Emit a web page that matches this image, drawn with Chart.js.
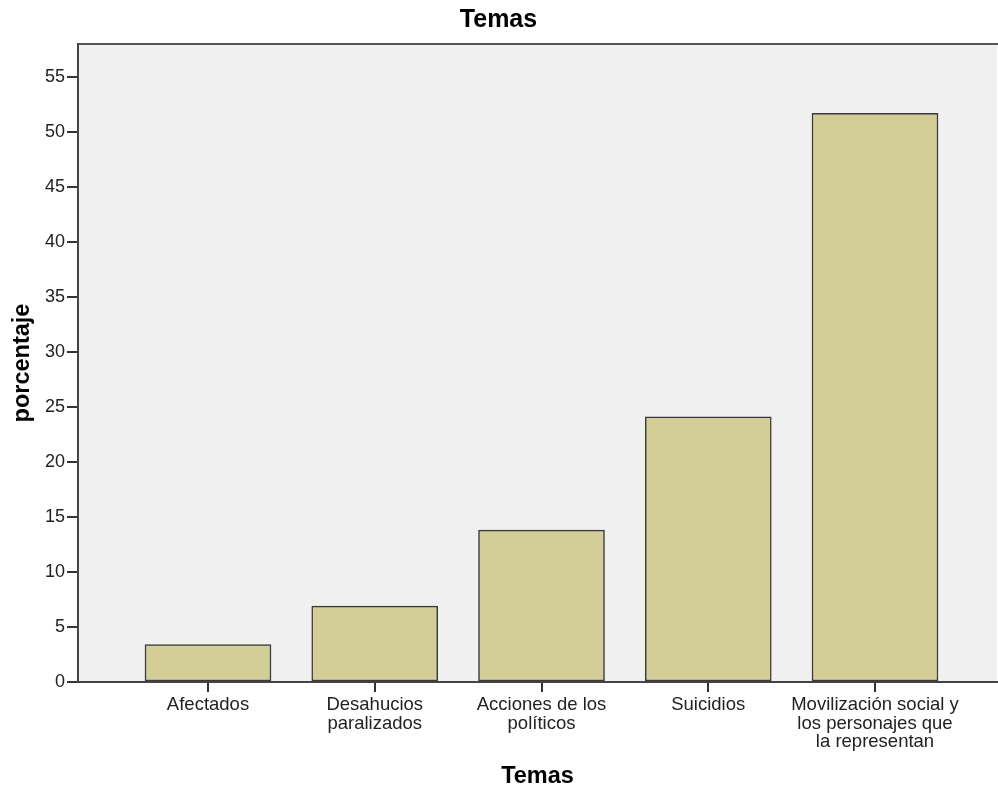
<!DOCTYPE html>
<html>
<head>
<meta charset="utf-8">
<script src="https://cdn.jsdelivr.net/npm/chart.js@4"></script>
<style>
  body { margin: 0; background: #fff; }
  #wrap { width: 998px; height: 789px; }
</style>
</head>
<body>
<div id="wrap"><canvas id="barChart" width="998" height="789"></canvas></div>
<script>
// data
var categories = ['Afectados', 'Desahucios\nparalizados', 'Acciones de los\npolíticos', 'Suicidios', 'Movilización social y\nlos personajes que\nla representan'];
var percentages = [3.4, 6.9, 13.8, 24.1, 51.7];
var yTicks = [0, 5, 10, 15, 20, 25, 30, 35, 40, 45, 50, 55];

var font = "'Liberation Sans', Arial, sans-serif";

// grey plot background + top frame line
var plotBackground = {
    id: 'plotBackground',
    beforeDraw: function (chart) {
        var a = chart.chartArea, c = chart.ctx;
        c.save();
        c.fillStyle = '#f0f0f0';
        c.fillRect(a.left, a.top, a.right - a.left, a.bottom - a.top);
        c.strokeStyle = '#555';
        c.lineWidth = 2;
        c.beginPath();
        c.moveTo(a.left, a.top);
        c.lineTo(a.right + 2, a.top);
        c.stroke();
        c.restore();
    }
};

var ctx = document.getElementById('barChart').getContext('2d');
var barChart = new Chart(ctx, {
    type: 'bar',
    data: {
        datasets: [{
            label: 'porcentaje',
            data: percentages.map(function (v, i) { return { x: i + 1, y: v }; }),
            backgroundColor: '#d3ce98',
            borderColor: '#3a3a3a',
            borderWidth: 1.5,
            borderSkipped: false,
            barThickness: 126
        }]
    },
    options: {
        responsive: false,
        animation: false,
        layout: { padding: { left: 0, right: 1, top: 0, bottom: 0 } },
        plugins: {
            legend: { display: false },
            tooltip: { enabled: false },
            title: {
                display: true,
                text: 'Temas',
                color: '#000',
                font: { family: font, size: 25, weight: 'bold', lineHeight: 1.2 },
                padding: { top: 5, bottom: 9 }
            }
        },
        scales: {
            x: {
                type: 'linear',
                offset: false,
                min: 0.2204,
                max: 5.7316,
                afterBuildTicks: function (scale) {
                    scale.ticks = categories.map(function (c, i) { return { value: i + 1 }; });
                },
                afterFit: function (scale) { scale.height = 107; },
                ticks: {
                    autoSkip: false,
                    maxRotation: 0,
                    color: '#222',
                    padding: 4,
                    font: { family: font, size: 18.5, lineHeight: 1 },
                    callback: function (value) {
                        var c = categories[Math.round(value) - 1];
                        return c ? c.split('\n') : '';
                    }
                },
                grid: { offset: false, drawOnChartArea: false, drawTicks: true, tickLength: 10, color: '#333', lineWidth: 2 },
                border: { display: true, color: '#444', width: 2 },
                title: {
                    display: true,
                    text: 'Temas',
                    color: '#000',
                    font: { family: font, size: 23.5, weight: 'bold', lineHeight: 1 },
                    padding: { top: 0, bottom: 1 }
                }
            },
            y: {
                min: 0,
                max: 58,
                afterBuildTicks: function (scale) {
                    scale.ticks = yTicks.map(function (v) { return { value: v }; });
                },
                afterFit: function (scale) { scale.width = 78; },
                ticks: {
                    color: '#222',
                    padding: 2,
                    font: { family: font, size: 18 }
                },
                grid: { drawOnChartArea: false, drawTicks: true, tickLength: 11, color: '#333', lineWidth: 2 },
                border: { display: true, color: '#444', width: 2 },
                title: {
                    display: true,
                    text: 'porcentaje',
                    color: '#000',
                    font: { family: font, size: 23.5, weight: 'bold', lineHeight: 1.2 },
                    padding: { top: 8, bottom: 0 }
                }
            }
        }
    },
    plugins: [plotBackground]
});
</script>
</body>
</html>
